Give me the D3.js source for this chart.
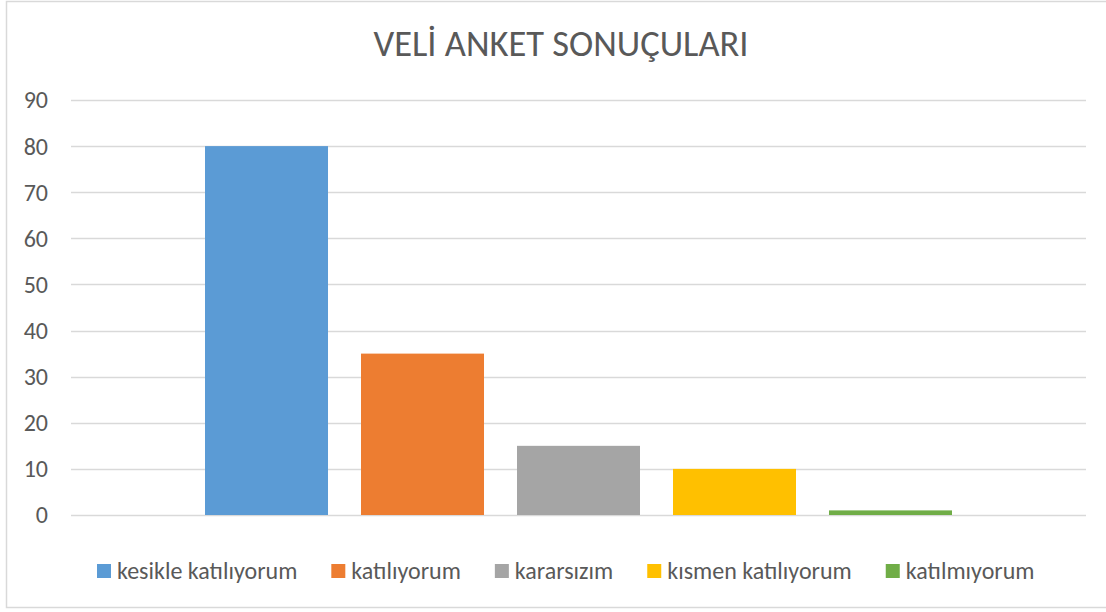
<!DOCTYPE html>
<html>
<head>
<meta charset="utf-8">
<script src="https://cdn.jsdelivr.net/npm/d3@7"></script>
<style>
  body { margin: 0; background: #fff; }
  svg text { font-family: Carlito, Lato, sans-serif; fill: #595959; }
</style>
</head>
<body>
<div id="chart"></div>
<script>
const title = "VELİ ANKET SONUÇULARI";
const series = ["kesikle katılıyorum", "katılıyorum", "kararsızım", "kısmen katılıyorum", "katılmıyorum"];
const values = [80, 35, 15, 10, 1];
const colors = ["#5b9bd5", "#ed7d31", "#a5a5a5", "#ffc000", "#70ad47"];
const yTicks = [0, 10, 20, 30, 40, 50, 60, 70, 80, 90];

const width = 1106, height = 612;
const margin = { top: 100, right: 20, bottom: 97, left: 71 };

const svg = d3.select("#chart")
    .append("svg")
    .attr("width", width)
    .attr("height", height);

// outer chart border
svg.append("rect")
    .attr("x", 6.5).attr("y", 1.5)
    .attr("width", 1110).attr("height", 606)
    .attr("fill", "none")
    .attr("stroke", "#d9d9d9")
    .attr("stroke-width", 1.5);

svg.append("text")
    .attr("x", 561).attr("y", 56)
    .attr("text-anchor", "middle")
    .style("font-size", "36.5px")
    .text(title);

const x = d3.scaleBand()
    .domain(series)
    .range([margin.left, width - margin.right])
    .paddingInner(0.2115)
    .paddingOuter(0.859);

const y = d3.scaleLinear()
    .domain([0, 90])
    .range([height - margin.bottom, margin.top]);

// gridlines
svg.append("g")
    .selectAll("line")
    .data(yTicks)
    .join("line")
    .attr("x1", margin.left).attr("x2", width - margin.right)
    .attr("y1", d => Math.round(y(d)) + 0.5)
    .attr("y2", d => Math.round(y(d)) + 0.5)
    .attr("stroke", "#d9d9d9")
    .attr("stroke-width", 1.3);

// y axis labels
svg.append("g")
    .selectAll("text")
    .data(yTicks)
    .join("text")
    .attr("x", 48)
    .attr("y", d => y(d))
    .attr("dy", "0.35em")
    .attr("text-anchor", "end")
    .style("font-size", "24px")
    .text(d => d);

// bars
svg.append("g")
    .selectAll("rect")
    .data(values)
    .join("rect")
    .attr("x", (d, i) => x(series[i]))
    .attr("width", x.bandwidth())
    .attr("y", d => y(d))
    .attr("height", d => y(0) - y(d))
    .attr("fill", (d, i) => colors[i]);

// legend, laid out left to right
const legend = svg.append("g").attr("transform", "translate(97, 571)");
let lx = 0;
series.forEach((s, i) => {
    const g = legend.append("g").attr("transform", `translate(${lx}, 0)`);
    g.append("rect")
        .attr("x", 0).attr("y", -7)
        .attr("width", 14).attr("height", 14)
        .attr("fill", colors[i]);
    const t = g.append("text")
        .attr("x", 20).attr("y", 0)
        .attr("dy", "0.35em")
        .style("font-size", "24px")
        .text(s);
    lx += 20 + t.node().getComputedTextLength() + 34;
});
</script>
</body>
</html>
